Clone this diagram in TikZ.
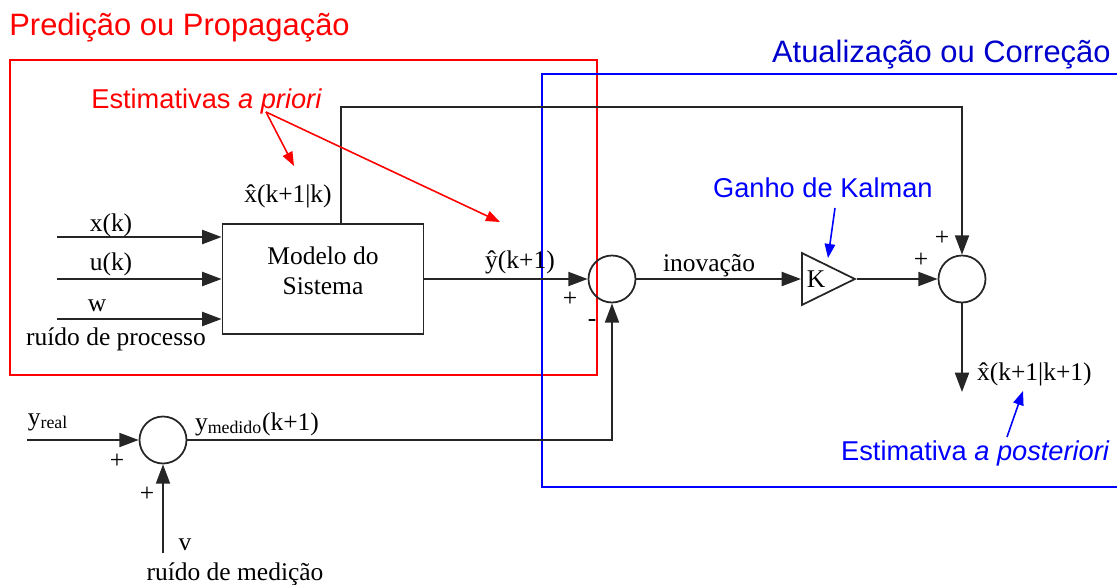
\documentclass[tikz,border=0pt]{standalone}
\usepackage{fontspec}
\setmainfont{Liberation Serif}
\newfontfamily\arialfont{Liberation Sans}
\usetikzlibrary{arrows.meta,positioning,shapes.geometric}
\definecolor{predred}{HTML}{FF0000}
\definecolor{corrblue}{HTML}{0000FF}
\definecolor{titleblue}{HTML}{0000CC}

\begin{document}
\begin{tikzpicture}[x=0.02cm,y=-0.02cm,
    line/.style={black!85,line width=1.1pt},
    seta/.style={line,-{Triangle[length=11pt,width=8pt]}},
    nota/.style={line width=0.9pt,-{Triangle[length=8pt,width=6pt]}},
    txt/.style={font=\fontsize{14.5}{17}\selectfont,inner sep=1pt},
    sans/.style={font=\arialfont\fontsize{15.5}{18}\selectfont,inner sep=0pt},
    big/.style={font=\arialfont\fontsize{17.6}{20}\selectfont,inner sep=0pt},
    soma/.style={circle,draw=black!85,line width=1pt,minimum size=0.94cm,inner sep=0pt},
    ganhobox/.style={isosceles triangle,isosceles triangle stretches,draw=black!85,
      line width=1pt,minimum width=1.04cm,minimum height=1.06cm,inner sep=0pt,anchor=west}]
  \useasboundingbox (0,0) rectangle (1117,585);

  % Frames and titles
  \draw[predred,line width=0.7pt] (10,60) rectangle (597,375);
  \draw[corrblue,line width=0.7pt] (1117,74) -- (542,74) -- (542,487) -- (1117,487);
  \node[big,predred,anchor=base west] (predicao) at (9,35) {Predição ou Propagação};
  \node[big,titleblue,anchor=base east] (correcao) at (1111,62) {Atualização ou Correção};

  % Blocks
  \node[draw,line,minimum width=4.02cm,minimum height=2.2cm] (modelo) at (323,279) {};
  \node[txt,align=center] (modelotxt) at (323,271) {Modelo do\\Sistema};
  \node[soma] (soma1) at (612,279) {};
  \node[ganhobox,txt] (ganho) at (801,279) {K};
  \node[soma] (soma2) at (962,279) {};
  \node[soma] (soma3) at (163,440) {};

  % Free ends
  \coordinate (xk) at (57,237);
  \coordinate (uk) at (57,279);
  \coordinate (wk) at (57,319);
  \coordinate (topo) at (341,107);
  \coordinate (saida) at (962,392);
  \coordinate (yreal) at (27,440);
  \coordinate (vin) at (163,553);

  % Signals
  \draw[seta] (xk) -- (modelo.west |- xk);
  \draw[seta] (uk) -- (modelo.west |- uk);
  \draw[seta] (wk) -- (modelo.west |- wk);
  \draw[seta] (modelo.north -| topo) -- (topo) -| (soma2.north);
  \draw[seta] (modelo.east) -- (soma1.west);
  \draw[seta] (soma1.east) -- (ganho.west);
  \draw[seta] (ganho.apex) -- (soma2.west);
  \draw[seta] (soma2.south) -- (saida);
  \draw[seta] (yreal) -- (soma3.west);
  \draw[seta] (vin) -- (soma3.south);
  \draw[seta] (soma3.east) -| (soma1.south);

  % Signal labels
  \node[txt] (lxk) at (111,225) {x(k)};
  \node[txt] (luk) at (111,264) {u(k)};
  \node[txt] (lwk) at (97,306) {w};
  \node[txt] (lproc) at (116,339) {ruído de processo};
  \node[txt] (lxprev) at (288,196) {\^x(k+1|k)};
  \node[txt] (lyprev) at (520,262) {\^y(k+1)};
  \node[txt] (lmais1) at (570,299) {+};
  \node[txt] (lmenos1) at (592,323) {-};
  \node[txt] (linov) at (709,266) {inovação};
  \node[txt] (lmais2) at (921,260) {+};
  \node[txt] (lmais3) at (942,238) {+};
  \node[txt,anchor=west] (lxpost) at (975,374) {\^x(k+1|k+1)};
  \node[txt] (lyreal) at (48,422) {y\textsubscript{real}};
  \node[txt] (lmais4) at (117,461) {+};
  \node[txt] (lmais5) at (147,494) {+};
  \node[txt] (lymed) at (257,424) {y\textsubscript{medido}(k+1)};
  \node[txt] (lv) at (185,545) {v};
  \node[txt] (lmed) at (235,574) {ruído de medição};

  % Annotations
  \node[sans,predred,anchor=base west] (priori) at (91,108) {Estimativas \textit{a priori}};
  \coordinate (pri) at (266,112);
  \coordinate (pria) at (294,166);
  \coordinate (prib) at (500,222);
  \draw[nota,predred] (pri) -- (pria);
  \draw[nota,predred] (pri) -- (prib);
  \node[sans,corrblue,anchor=base east] (kalman) at (933,197) {Ganho de Kalman};
  \coordinate (kal) at (835,208);
  \coordinate (kala) at (828,258);
  \draw[nota,corrblue] (kal) -- (kala);
  \node[sans,corrblue,anchor=base east] (posteriori) at (1110,460) {Estimativa \textit{a posteriori}};
  \coordinate (pos) at (1007,437);
  \coordinate (posa) at (1023,391);
  \draw[nota,corrblue] (pos) -- (posa);
\end{tikzpicture}
\end{document}
